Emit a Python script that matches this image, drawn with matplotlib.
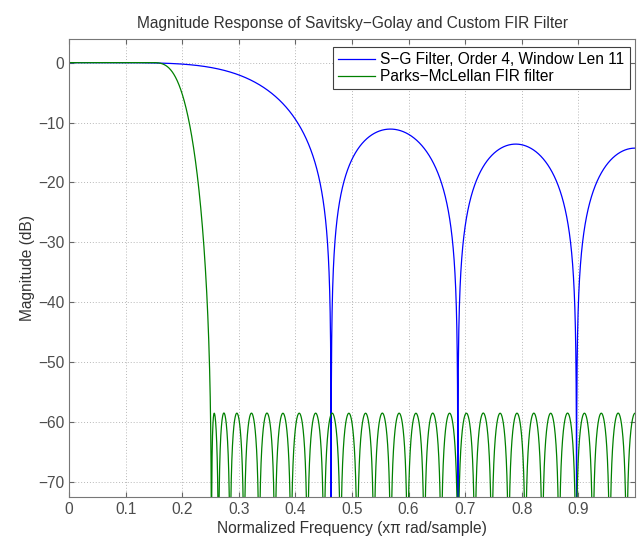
import numpy as np
import matplotlib
matplotlib.use("Agg")
import matplotlib.pyplot as plt

# Savitzky-Golay smoothing filter, order 4, window length 11 (integer coefficients / 429)
sg_coeffs = [18, -45, -10, 60, 120, 143, 120, 60, -10, -45, 18]
sg_norm = 429.0

# Parks-McClellan lowpass spec (band edges in x pi rad/sample)
pm_numtaps = 69
pm_passband_edge = 0.155
pm_stopband_edge = 0.25
pm_weights = [1.0, 1.0]

labels = ["S\u2212G Filter, Order 4, Window Len 11", "Parks\u2212McLellan FIR filter"]
x_ticks = [0, 0.1, 0.2, 0.3, 0.4, 0.5, 0.6, 0.7, 0.8, 0.9]
y_ticks = [0, -10, -20, -30, -40, -50, -60, -70]


def bary_weights(xs):
    d = xs[:, None] - xs[None, :]
    np.fill_diagonal(d, 1.0)
    return 1.0 / np.prod(2.0 * d, axis=1)


def bary_eval(x, xk, dk, ck):
    t = x[:, None] - xk[None, :]
    hit = np.abs(t) < 1e-14
    t[hit] = 1.0
    q = dk[None, :] / t
    out = (q @ ck) / q.sum(axis=1)
    r, c = np.nonzero(hit)
    out[r] = ck[c]
    return out


def remez_lowpass(numtaps, fp, fs, weights, density=16, max_iter=100):
    """Equiripple type I lowpass, Remez exchange with barycentric interpolation."""
    M = (numtaps - 1) // 2
    n_tot = density * (M + 1)
    span = fp + (1 - fs)
    n_p = max(int(n_tot * fp / span), 8)
    n_s = max(int(n_tot * (1 - fs) / span), 8)
    grid = np.concatenate([np.linspace(0, fp, n_p), np.linspace(fs, 1, n_s)]) * np.pi
    x = np.cos(grid)
    des = np.concatenate([np.ones(n_p), np.zeros(n_s)])
    wt = np.concatenate([np.full(n_p, weights[0]), np.full(n_s, weights[1])])
    band = np.concatenate([np.zeros(n_p, int), np.ones(n_s, int)])
    ext = np.round(np.linspace(0, len(grid) - 1, M + 2)).astype(int)
    sgn = (-1.0) ** np.arange(M + 2)
    for _ in range(max_iter):
        xe = x[ext]
        b = bary_weights(xe)
        delta = np.sum(b * des[ext]) / np.sum(b * sgn / wt[ext])
        c = des[ext] - sgn * delta / wt[ext]
        xk, ck = xe[:M + 1], c[:M + 1]
        dk = bary_weights(xk)
        err = wt * (des - bary_eval(x, xk, dk, ck))
        ad = abs(delta)

        # local extrema of the weighted error, band by band
        cand = []
        for bnd in (0, 1):
            idx = np.where(band == bnd)[0]
            e = err[idx]
            for j in range(len(idx)):
                s = np.sign(e[j])
                if j > 0 and s * e[j - 1] > s * e[j]:
                    continue
                if j < len(idx) - 1 and s * e[j + 1] > s * e[j]:
                    continue
                if abs(e[j]) >= ad * (1 - 1e-7):
                    cand.append(idx[j])
        # keep alternation
        alt = []
        for cc in cand:
            if alt and np.sign(err[cc]) == np.sign(err[alt[-1]]):
                if abs(err[cc]) > abs(err[alt[-1]]):
                    alt[-1] = cc
            else:
                alt.append(cc)
        while len(alt) > M + 2:
            if abs(err[alt[0]]) < abs(err[alt[-1]]):
                alt.pop(0)
            else:
                alt.pop()
        if len(alt) < M + 2:
            break
        alt = np.array(alt)
        if np.array_equal(alt, ext):
            break
        ext = alt

    # cosine coefficients from samples of the final amplitude response
    wm = np.pi * np.arange(M + 1) / M
    Am = bary_eval(np.cos(wm), xk, dk, ck)
    a = np.linalg.solve(np.cos(np.outer(wm, np.arange(M + 1))), Am)
    h = np.zeros(2 * M + 1)
    h[M] = a[0]
    h[M + 1:] = a[1:] / 2
    h[:M] = a[1:][::-1] / 2
    return h


def mag_db(h, n=8192):
    H = np.fft.rfft(h, 2 * n)
    w = np.linspace(0, 1, n + 1)
    return w, 20 * np.log10(np.abs(H) + 1e-12)


h_sg = np.array(sg_coeffs) / sg_norm
h_pm = remez_lowpass(pm_numtaps, pm_passband_edge, pm_stopband_edge, pm_weights)

w_sg, db_sg = mag_db(h_sg)
w_pm, db_pm = mag_db(h_pm)

plt.rcParams["font.family"] = ["Liberation Sans", "DejaVu Sans"]
fig = plt.figure(figsize=(6.4, 5.36), dpi=100)
ax = fig.add_axes([0.1078, 0.0728, 0.8844, 0.8539])

ax.plot(w_sg, db_sg, color="#0000ff", lw=0.9, label=labels[0])
ax.plot(w_pm, db_pm, color="#008000", lw=0.9, label=labels[1])

ax.set_xlim(0, 1)
ax.set_ylim(-72.5, 3.9)
ax.set_xticks(x_ticks)
ax.set_xticklabels([f"{t:g}" for t in x_ticks])
ax.set_yticks(y_ticks)
ax.grid(True, color="#b8b8b8", linestyle=(0, (1, 2)), lw=0.7)
ax.tick_params(direction="in", top=True, right=True, length=3.5, width=0.8,
               colors="#666666", labelcolor="#4d4d4d", labelsize=11.2)
for sp in ax.spines.values():
    sp.set_color("#777777")
    sp.set_linewidth(0.8)

ax.set_title("Magnitude Response of Savitsky\u2212Golay and Custom FIR Filter",
             fontsize=11.2, color="#333333", pad=8)
ax.set_xlabel("Normalized Frequency (x\u03c0 rad/sample)", fontsize=11.2, color="#333333", labelpad=3)
ax.set_ylabel("Magnitude (dB)", fontsize=11.2, color="#333333", labelpad=2)

leg = ax.legend(loc="upper right", bbox_to_anchor=(0.9912, 0.9832), borderaxespad=0,
                fontsize=11.2, fancybox=False, framealpha=1, edgecolor="#404040",
                handlelength=2.35, handletextpad=0.35, borderpad=0.35, labelspacing=0.1)
leg.get_frame().set_linewidth(0.8)

fig.savefig("out.png", dpi=100)
